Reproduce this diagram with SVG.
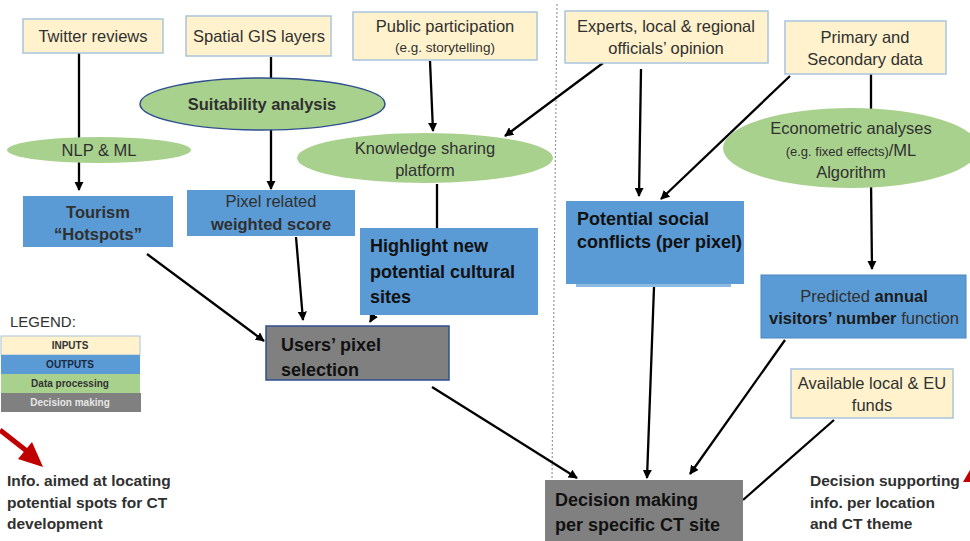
<svg xmlns="http://www.w3.org/2000/svg" width="970" height="541" viewBox="0 0 970 541">
  <defs>
    <marker id="arr" viewBox="0 0 10 10" refX="9" refY="5" markerWidth="4" markerHeight="4" orient="auto" markerUnits="strokeWidth">
      <path d="M0,0 L10,5 L0,10 z" fill="#000"/>
    </marker>
    <style>
      text { font-family: "Liberation Sans", Arial, sans-serif; }
      .in { fill: #FFF2CC; stroke: #A9C4DE; stroke-width: 1.5; }
      .out { fill: #5B9BD5; }
      .proc { fill: #A9D18E; }
      .dec { fill: #808080; }
      .t { font-size: 16.5px; fill: #303030; text-anchor: middle; }
      .ts { font-size: 13.5px; fill: #303030; text-anchor: middle; }
      .b { font-weight: bold; }
      .big { font-size: 18px; font-weight: bold; fill: #111; }
      .note { font-size: 15.5px; font-weight: bold; fill: #303030; }
      .leg { font-size: 10px; font-weight: bold; text-anchor: middle; }
      .c { stroke: #000; stroke-width: 2.3; fill: none; }
      .ca { stroke: #000; stroke-width: 2.3; fill: none; marker-end: url(#arr); }
    </style>
  </defs>
  <rect width="970" height="541" fill="#fff"/>

  <!-- separator between the two halves -->
  <line x1="557" y1="4" x2="552" y2="482" stroke="#9a9a9a" stroke-width="1.2" stroke-dasharray="2,2"/>

  <!-- connectors -->
  <g id="connectors">
    <line class="ca" x1="79" y1="52" x2="79" y2="190"/>
    <line class="ca" x1="271" y1="57" x2="271" y2="189"/>
    <line class="ca" x1="430" y1="61" x2="433" y2="131"/>
    <line class="ca" x1="603" y1="63" x2="505" y2="136"/>
    <line class="ca" x1="641" y1="69" x2="639" y2="196"/>
    <line class="ca" x1="790" y1="76" x2="661" y2="199"/>
    <line class="c" x1="871" y1="74" x2="871" y2="120"/>
    <line class="ca" x1="871" y1="180" x2="872" y2="269"/>
    <line class="c" x1="437" y1="184" x2="437" y2="232"/>
    <line class="ca" x1="147" y1="254" x2="264" y2="341"/>
    <line class="ca" x1="296" y1="237" x2="303" y2="320"/>
    <line class="ca" x1="382" y1="300" x2="370" y2="322"/>
    <line class="ca" x1="432" y1="387" x2="577" y2="478"/>
    <line class="ca" x1="654" y1="287" x2="647" y2="478"/>
    <line class="ca" x1="785" y1="340" x2="690" y2="474"/>
    <line class="c" x1="834" y1="420" x2="743" y2="500"/>
  </g>

  <!-- inputs -->
  <g id="twitter">
    <rect class="in" x="23" y="19" width="140" height="34"/>
    <text class="t" x="93" y="42">Twitter reviews</text>
  </g>
  <g id="gis">
    <rect class="in" x="186" y="16" width="145" height="40"/>
    <text class="t" x="259" y="42">Spatial GIS layers</text>
  </g>
  <g id="public">
    <rect class="in" x="353" y="12" width="184" height="48"/>
    <text class="t" x="445" y="32">Public participation</text>
    <text class="ts" x="445" y="52">(e.g. storytelling)</text>
  </g>
  <g id="experts">
    <rect class="in" x="565" y="11" width="203" height="52"/>
    <text class="t" x="666" y="32">Experts, local  &amp; regional</text>
    <text class="t" x="666" y="54">officials’ opinion</text>
  </g>
  <g id="primary">
    <rect class="in" x="785" y="21" width="161" height="53"/>
    <text class="t" x="865" y="43">Primary and</text>
    <text class="t" x="865" y="65">Secondary data</text>
  </g>
  <g id="funds">
    <rect class="in" x="791" y="369" width="162" height="49"/>
    <text class="t" x="872" y="389">Available local &amp; EU</text>
    <text class="t" x="872" y="411">funds</text>
  </g>

  <!-- data processing -->
  <g id="suitability">
    <ellipse class="proc" cx="262.5" cy="104" rx="122.5" ry="26" stroke="#2F4F8F" stroke-width="1.5"/>
    <text class="t b" x="262" y="110" fill="#111">Suitability analysis</text>
  </g>
  <g id="nlp">
    <ellipse class="proc" cx="99" cy="150" rx="92" ry="13"/>
    <text class="t" x="99" y="156">NLP &amp; ML</text>
  </g>
  <g id="knowledge">
    <ellipse class="proc" cx="425" cy="158" rx="128" ry="25"/>
    <text class="t" x="425" y="154">Knowledge sharing</text>
    <text class="t" x="425" y="176">platform</text>
  </g>
  <g id="econometric">
    <ellipse class="proc" cx="851" cy="148" rx="128" ry="40"/>
    <text class="t" x="851" y="134">Econometric analyses</text>
    <text class="t" x="851" y="156"><tspan font-size="13">(e.g. fixed effects)</tspan>/ML</text>
    <text class="t" x="851" y="178">Algorithm</text>
  </g>

  <!-- outputs -->
  <g id="tourism">
    <rect class="out" x="23" y="196" width="150" height="51"/>
    <text class="t b" x="98" y="218" fill="#1a1a1a">Tourism</text>
    <text class="t b" x="98" y="240" fill="#1a1a1a">“Hotspots”</text>
  </g>
  <g id="pixel">
    <rect class="out" x="187" y="190" width="168" height="46"/>
    <text class="t" x="271" y="207">Pixel related</text>
    <text class="t b" x="271" y="230" fill="#1a1a1a">weighted score</text>
  </g>
  <g id="highlight">
    <rect class="out" x="360" y="228" width="178" height="87"/>
    <text class="big" x="370" y="252">Highlight new</text>
    <text class="big" x="370" y="278">potential cultural</text>
    <text class="big" x="370" y="303">sites</text>
  </g>
  <g id="conflicts">
    <rect x="576" y="282" width="155" height="5" fill="#5B9BD5" opacity="0.7"/>
    <rect class="out" x="566" y="201" width="178" height="83"/>
    <text class="big" x="577" y="225" font-size="17">Potential social</text>
    <text class="big" x="577" y="248" font-size="17">conflicts (per pixel)</text>
  </g>
  <g id="predicted">
    <rect class="out" x="761" y="275" width="205" height="63" stroke="#4A86C0" stroke-width="1"/>
    <text class="t" x="864" y="302">Predicted <tspan class="b" fill="#1a1a1a">annual</tspan></text>
    <text class="t" x="864" y="324"><tspan class="b" fill="#1a1a1a">visitors’ number</tspan> function</text>
  </g>

  <!-- decision making -->
  <g id="users">
    <rect class="dec" x="266" y="326" width="183" height="54" stroke="#2F4F8F" stroke-width="1.5"/>
    <text class="big" x="281" y="351">Users’ pixel</text>
    <text class="big" x="281" y="376">selection</text>
  </g>
  <g id="decision">
    <rect class="dec" x="545" y="480" width="198" height="61"/>
    <text class="big" x="555" y="506">Decision making</text>
    <text class="big" x="555" y="531">per specific CT site</text>
  </g>

  <!-- legend -->
  <g id="legend">
    <text x="10" y="327" font-size="15" fill="#303030">LEGEND:</text>
    <rect x="1" y="336" width="139" height="19" fill="#FFF2CC" stroke="#A9C4DE"/>
    <text class="leg" x="70" y="349" fill="#333">INPUTS</text>
    <rect x="1" y="355" width="139" height="19" fill="#5B9BD5"/>
    <text class="leg" x="70" y="368" fill="#1a2a40">OUTPUTS</text>
    <rect x="1" y="374" width="139" height="19" fill="#A9D18E"/>
    <text class="leg" x="70" y="387" fill="#333" font-weight="normal">Data processing</text>
    <rect x="1" y="393" width="140" height="19" fill="#808080"/>
    <text class="leg" x="70" y="406" fill="#e6e6e6">Decision making</text>
  </g>

  <!-- notes -->
  <g id="note-left">
    <line x1="0" y1="430" x2="28" y2="452" stroke="#C00000" stroke-width="5"/>
    <polygon points="43,467 18,459 32,442" fill="#C00000"/>
    <text class="note" x="7" y="486">Info. aimed at locating</text>
    <text class="note" x="7" y="508">potential spots for CT</text>
    <text class="note" x="7" y="529">development</text>
  </g>
  <g id="note-right">
    <polygon points="963,482 970,470 970,482" fill="#C00000"/>
    <text class="note" x="810" y="486">Decision supporting</text>
    <text class="note" x="810" y="508">info. per location</text>
    <text class="note" x="810" y="529">and CT theme</text>
  </g>
</svg>
